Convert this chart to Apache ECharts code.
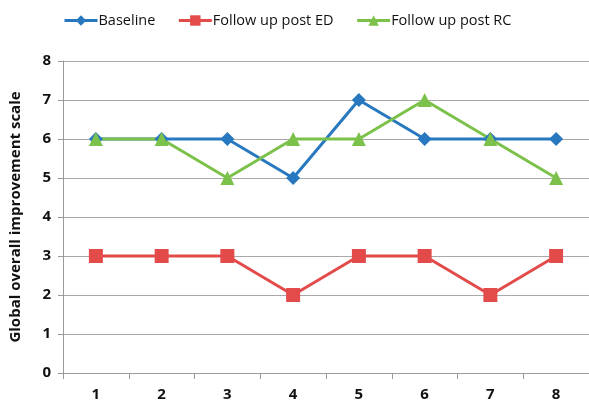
<!DOCTYPE html>
<html><head><meta charset="utf-8">
<script src="https://cdn.jsdelivr.net/npm/echarts@6/dist/echarts.min.js"></script>
<style>html,body{margin:0;padding:0;background:#fff}#c{width:589px;height:406px}</style>
</head><body><div id="c"></div>
<script>
const categories = ['1','2','3','4','5','6','7','8'];
const baseline = [6,6,6,5,7,6,6,6];
const postED = [3,3,3,2,3,3,2,3];
const postRC = [6,6,5,6,6,7,6,5];
const seriesNames = ['Baseline','Follow up post ED','Follow up post RC'];
const yTitle = 'Global overall improvement scale';

const font = '"Open Sans", "Liberation Sans", sans-serif';
const chart = echarts.init(document.getElementById('c'), null, {renderer:'canvas'});
function s(name, data, color, symbol, size){
  return {name, type:'line', data, symbol, symbolSize:size,
    lineStyle:{color, width:3}, itemStyle:{color}, color};
}
chart.setOption({
  animation:false,
  textStyle:{fontFamily:font},
  legend:{top:8, left:58, itemWidth:33, itemHeight:13, itemGap:22,
    lineStyle:{width:3},
    textStyle:{fontSize:14.5, color:'#111', fontFamily:font, padding:[0,0,0,-4]},
    data:seriesNames},
  grid:{left:62, right:0, top:61, bottom:33, containLabel:false},
  xAxis:{type:'category', data:categories, boundaryGap:true,
    axisLine:{lineStyle:{color:'#9a9a9a', width:1}},
    axisTick:{show:true, length:6, alignWithLabel:false, lineStyle:{color:'#9a9a9a'}},
    axisLabel:{fontSize:15, fontWeight:'bold', color:'#111', margin:14}},
  yAxis:{type:'value', min:0, max:8, interval:1,
    name:yTitle, nameLocation:'middle', nameGap:40,
    nameTextStyle:{fontSize:15, fontWeight:'bold', color:'#111'},
    axisLine:{show:true, lineStyle:{color:'#9a9a9a', width:1}},
    axisTick:{show:true, length:5, lineStyle:{color:'#9a9a9a'}},
    axisLabel:{fontSize:15, fontWeight:'bold', color:'#111', margin:12},
    splitLine:{lineStyle:{color:'#a8a8a8', width:1}}},
  series:[
    s(seriesNames[0], baseline, '#2878c0', 'diamond', 14),
    s(seriesNames[1], postED, '#e34b4b', 'rect', 14),
    s(seriesNames[2], postRC, '#7cc14a', 'triangle', 14)
  ]
});
</script></body></html>
